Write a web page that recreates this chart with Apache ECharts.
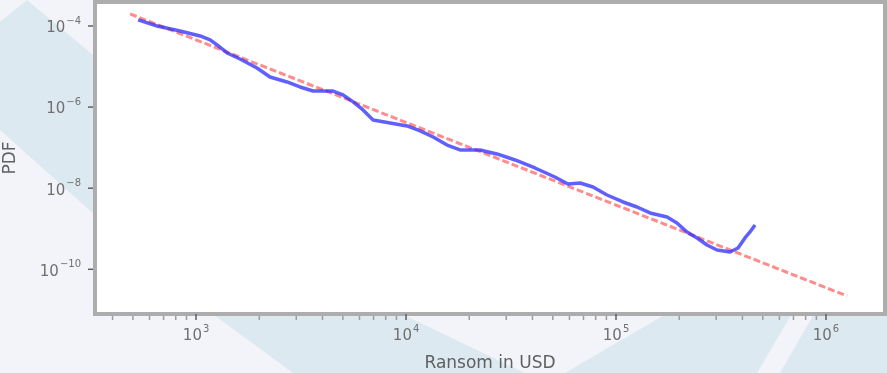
<!DOCTYPE html>
<html>
<head>
<meta charset="utf-8">
<script src="https://cdn.jsdelivr.net/npm/echarts@6/dist/echarts.min.js"></script>
<style>
html, body { margin: 0; padding: 0; background: #f2f4f9; }
#chart { width: 887px; height: 373px; }
</style>
</head>
<body>
<div id="chart"></div>
<script>
// Empirical distribution of ransom amounts (USD) and its density
const ransomUSD = [530, 652, 839, 1045, 1167, 1259, 1406, 1619, 1950, 2249, 2710, 3126, 3605, 4487,
  5012, 5597, 6237, 6966, 8395, 10115, 11670, 13460, 15680, 18070, 22490, 27100, 33040, 41110,
  51170, 59020, 67420, 77700, 90570, 108000, 125900, 145200, 175000, 195100, 217800, 243200,
  271200, 302700, 349100, 381100, 411200, 434500, 459200];
const density = [1.41e-4, 1.0e-4, 7.53e-5, 5.67e-5, 4.52e-5, 3.40e-5, 2.16e-5, 1.53e-5, 9.2e-6,
  5.52e-6, 4.16e-6, 3.13e-6, 2.49e-6, 2.49e-6, 1.99e-6, 1.34e-6, 8.5e-7, 4.81e-7, 4.06e-7,
  3.42e-7, 2.58e-7, 1.83e-7, 1.16e-7, 8.75e-8, 8.75e-8, 6.98e-8, 4.96e-8, 3.15e-8, 1.89e-8,
  1.27e-8, 1.34e-8, 1.07e-8, 6.79e-9, 4.57e-9, 3.44e-9, 2.45e-9, 1.95e-9, 1.39e-9, 8.32e-10,
  5.92e-10, 3.97e-10, 2.99e-10, 2.67e-10, 3.35e-10, 5.92e-10, 8.32e-10, 1.24e-9];

// Power-law fit (end points of the straight line on log-log axes)
const fitX = [485, 1.26e6];
const fitY = [1.98e-4, 2.2e-11];

// Axis ranges and labelled decades
const xRange = [330, 1.91e6];
const yRange = [7.9e-12, 3.9e-4];
const xTickExponents = [3, 4, 5, 6];
const yTickExponents = [-4, -6, -8, -10];

// Minor ticks between decades on the x axis
const xMinor = [];
for (let e = 2; e <= 6; e++) {
  for (let k = 2; k <= 9; k++) {
    const v = k * Math.pow(10, e);
    if (v > xRange[0] && v < xRange[1]) xMinor.push([v, yRange[0]]);
  }
}

function isLabelled(v, exps) {
  const e = Math.log10(v);
  const r = Math.round(e);
  return Math.abs(e - r) < 1e-6 && exps.indexOf(r) >= 0 ? r : null;
}
function powLabel(exps) {
  return function (v) {
    const r = isLabelled(v, exps);
    if (r === null) return '';
    return '{b|10}{s|' + (r < 0 ? '\u2212' + (-r) : r) + '}';
  };
}
const richSup = {
  b: { fontSize: 15, color: '#707070', fontFamily: 'DejaVu Sans', lineHeight: 20, verticalAlign: 'bottom' },
  s: { fontSize: 10, color: '#707070', fontFamily: 'DejaVu Sans', lineHeight: 20, verticalAlign: 'top', padding: [0, 0, 7, 1] }
};

const chart = echarts.init(document.getElementById('chart'), null, { renderer: 'canvas' });
chart.setOption({
  backgroundColor: '#f2f4f9',
  animation: false,
  graphic: [
    { type: 'polygon', z: -1, silent: true,
      shape: { points: [[27, 0], [408, 317], [525, 373], [293, 373], [210, 312], [95, 215], [0, 130], [0, 22]] },
      style: { fill: '#dde9f0' } },
    { type: 'polygon', z: -1, silent: true,
      shape: { points: [[690, 300], [800, 300], [757, 373], [565, 373]] },
      style: { fill: '#dde9f0' } },
    { type: 'polygon', z: -1, silent: true,
      shape: { points: [[822, 300], [887, 300], [887, 373], [780, 373]] },
      style: { fill: '#dde9f0' } },
    { type: 'polygon', z: -1, silent: true,
      shape: { points: [[860, 0], [887, 0], [887, 300], [860, 300]] },
      style: { fill: '#dde9f0' } }
  ],
  grid: {
    left: 95, right: 2, top: 2, bottom: 59,
    outerBoundsMode: 'none', containLabel: false,
    show: true, backgroundColor: '#ffffff', borderColor: '#adadad', borderWidth: 4
  },
  xAxis: {
    type: 'log', logBase: 10, min: xRange[0], max: xRange[1],
    name: 'Ransom in USD', nameLocation: 'middle', nameGap: 41,
    nameTextStyle: { fontSize: 17, color: '#606060', fontFamily: 'DejaVu Sans' },
    axisLine: { show: false },
    axisTick: { show: true, length: 6, lineStyle: { color: '#606060', width: 1.5 } },
    splitLine: { show: false },
    axisLabel: { formatter: powLabel(xTickExponents), rich: richSup, margin: 10,
      showMinLabel: false, showMaxLabel: false }
  },
  yAxis: {
    type: 'log', logBase: 10, min: yRange[0], max: yRange[1],
    name: 'PDF', nameLocation: 'middle', nameGap: 76,
    nameTextStyle: { fontSize: 17, color: '#606060', fontFamily: 'DejaVu Sans' },
    axisLine: { show: false },
    axisTick: { show: false },
    splitLine: { show: false },
    axisLabel: { formatter: powLabel(yTickExponents), rich: richSup, margin: 14,
      showMinLabel: false, showMaxLabel: false }
  },
  series: [
    {
      // minor tick marks under the x axis
      type: 'custom', silent: true, clip: false, z: 1,
      renderItem: function (params, api) {
        const x = api.coord([api.value(0), yRange[0]])[0];
        const y0 = params.coordSys.y + params.coordSys.height + 2;
        return { type: 'line', shape: { x1: x, y1: y0, x2: x, y2: y0 + 4 },
          style: { stroke: '#9c9c9c', lineWidth: 1.5 } };
      },
      data: xMinor
    },
    {
      // major tick marks at the labelled y decades
      type: 'custom', silent: true, clip: false, z: 1,
      renderItem: function (params, api) {
        const y = api.coord([xRange[0], api.value(1)])[1];
        const x0 = params.coordSys.x - 2;
        return { type: 'line', shape: { x1: x0, y1: y, x2: x0 - 5, y2: y },
          style: { stroke: '#606060', lineWidth: 1.5 } };
      },
      data: yTickExponents.map(e => [xRange[0], Math.pow(10, e)])
    },
    {
      name: 'fit', type: 'line', showSymbol: false, z: 2,
      data: fitX.map((x, i) => [x, fitY[i]]),
      lineStyle: { color: '#ff4040', width: 3, type: [7, 3], opacity: 0.6 }
    },
    {
      name: 'data', type: 'line', showSymbol: false, z: 3,
      data: ransomUSD.map((x, i) => [x, density[i]]),
      lineStyle: { color: '#2b2bff', width: 3.5, opacity: 0.75 }
    }
  ]
});
</script>
</body>
</html>
